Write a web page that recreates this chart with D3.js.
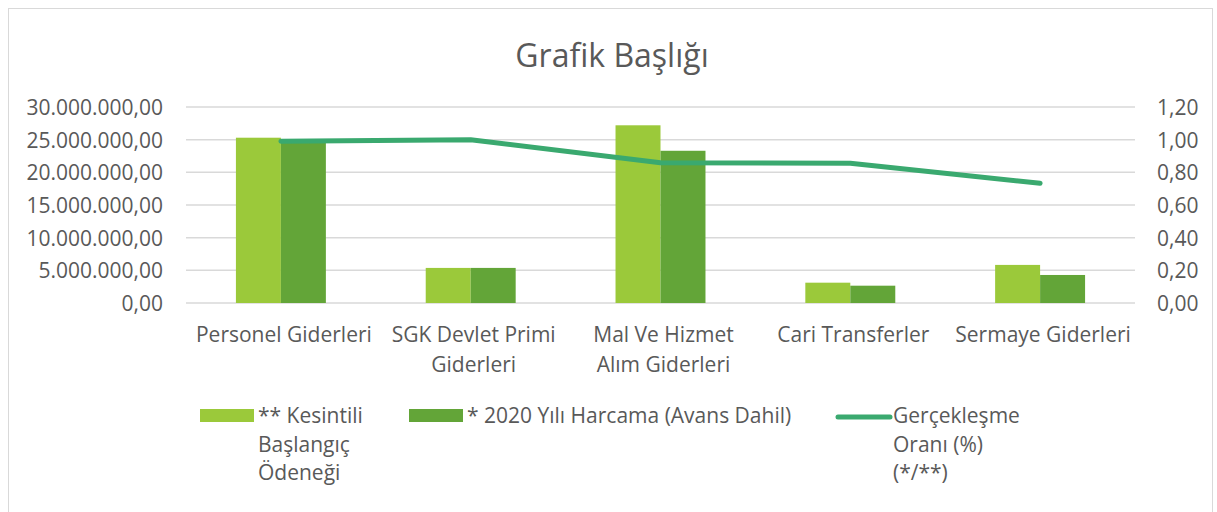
<!DOCTYPE html>
<html>
<head>
<meta charset="utf-8">
<script src="https://cdn.jsdelivr.net/npm/d3@7"></script>
<style>
  body { margin: 0; background: #fff; }
  #chart text { font-family: "Open Sans", sans-serif; fill: #595959; }
</style>
</head>
<body>
<div id="chart"></div>
<script>
"use strict";

const categories = [
  ["Personel Giderleri"],
  ["SGK Devlet Primi", "Giderleri"],
  ["Mal Ve Hizmet", "Alım Giderleri"],
  ["Cari Transferler"],
  ["Sermaye Giderleri"],
];
const budget = [25300000, 5370000, 27200000, 3110000, 5830000];
const spent = [25100000, 5370000, 23300000, 2650000, 4290000];
const ratio = [0.99, 1.0, 0.859, 0.855, 0.733];
const leftTicks = [0, 5000000, 10000000, 15000000, 20000000, 25000000, 30000000];
const rightTicks = [0, 0.2, 0.4, 0.6, 0.8, 1.0, 1.2];
const seriesNames = [
  ["** Kesintili", "Başlangıç", "Ödeneği"],
  ["* 2020 Yılı Harcama (Avans Dahil)"],
  ["Gerçekleşme", "Oranı (%)", "(*/**)"],
];

const colors = ["#9bc93a", "#63a538", "#3aa96f"];

const W = 1217, H = 512;
const plot = { left: 186, right: 1135, top: 107, bottom: 303 };
const fontSize = "21px";

const fmt = d3.formatLocale({ decimal: ",", thousands: ".", grouping: [3], currency: ["", ""] });
const fmtLeft = fmt.format(",.2f");
const fmtRight = fmt.format(".2f");

const svg = d3.select("#chart").append("svg").attr("width", W).attr("height", H);

// frame
svg.append("rect")
  .attr("x", 8.5).attr("y", 8.5)
  .attr("width", 1204).attr("height", 510)
  .attr("fill", "none").attr("stroke", "#d9d9d9");

svg.append("text")
  .attr("x", 612).attr("y", 67)
  .attr("text-anchor", "middle")
  .style("font-size", "32px")
  .text("Grafik Başlığı");

const x = d3.scaleBand()
  .domain(d3.range(categories.length))
  .range([plot.left, plot.right]);

// two bars side by side, ~45px each, centred in the band
const x1 = d3.scaleBand()
  .domain([0, 1])
  .range([0, x.bandwidth()])
  .paddingOuter(1.11);

const yL = d3.scaleLinear().domain([0, 30000000]).range([plot.bottom, plot.top]);
const yR = d3.scaleLinear().domain([0, 1.2]).range([plot.bottom, plot.top]);

// gridlines
svg.append("g")
  .selectAll("line")
  .data(leftTicks)
  .join("line")
  .attr("x1", plot.left).attr("x2", plot.right)
  .attr("y1", (d) => yL(d)).attr("y2", (d) => yL(d))
  .attr("stroke", "#d9d9d9").attr("stroke-width", 1.5);

// left axis
const leftAxis = svg.append("g")
  .attr("transform", `translate(${plot.left - 23}, 0)`)
  .call(d3.axisLeft(yL).tickValues(leftTicks).tickFormat(fmtLeft).tickSize(0).tickPadding(0));
leftAxis.select(".domain").remove();
leftAxis.selectAll("text").style("font-size", fontSize).attr("dy", "0.35em");

// right axis
const rightAxis = svg.append("g")
  .attr("transform", `translate(${plot.right + 22}, 0)`)
  .call(d3.axisRight(yR).tickValues(rightTicks).tickFormat(fmtRight).tickSize(0).tickPadding(0));
rightAxis.select(".domain").remove();
rightAxis.selectAll("text").style("font-size", fontSize).attr("dy", "0.35em");

// bars
const groups = svg.append("g")
  .selectAll("g")
  .data(categories.map((c, i) => [budget[i], spent[i]]))
  .join("g")
  .attr("transform", (d, i) => `translate(${x(i)}, 0)`);

groups.selectAll("rect")
  .data((d) => d)
  .join("rect")
  .attr("x", (d, j) => x1(j))
  .attr("width", x1.bandwidth())
  .attr("y", (d) => yL(d))
  .attr("height", (d) => yL(0) - yL(d))
  .attr("fill", (d, j) => colors[j]);

// line
const line = d3.line()
  .x((d, i) => x(i) + x.bandwidth() / 2)
  .y((d) => yR(d));

svg.append("path")
  .datum(ratio)
  .attr("d", line)
  .attr("fill", "none")
  .attr("stroke", colors[2])
  .attr("stroke-width", 5)
  .attr("stroke-linecap", "round")
  .attr("stroke-linejoin", "round");

// category labels
const catLabels = svg.append("g")
  .selectAll("text")
  .data(categories)
  .join("text")
  .attr("x", (d, i) => x(i) + x.bandwidth() / 2 + 3)
  .attr("y", 342)
  .attr("text-anchor", "middle")
  .style("font-size", fontSize);
catLabels.selectAll("tspan")
  .data((d) => d)
  .join("tspan")
  .attr("x", function () { return this.parentNode.getAttribute("x"); })
  .attr("dy", (d, i) => (i === 0 ? 0 : 30))
  .text((d) => d);

// legend
const legendX = [200, 409, 836];
const legend = svg.append("g")
  .selectAll("g")
  .data(seriesNames)
  .join("g")
  .attr("transform", (d, i) => `translate(${legendX[i]}, 416)`);

legend.filter((d, i) => i < 2)
  .append("rect")
  .attr("x", 0).attr("y", -7)
  .attr("width", 54).attr("height", 13)
  .attr("fill", (d, i) => colors[i]);

legend.filter((d, i) => i === 2)
  .append("line")
  .attr("x1", 2).attr("x2", 54)
  .attr("y1", 1).attr("y2", 1)
  .attr("stroke", colors[2]).attr("stroke-width", 5)
  .attr("stroke-linecap", "round");

legend.append("text")
  .attr("x", (d, i) => (i === 2 ? 57 : 58))
  .attr("y", 7)
  .style("font-size", fontSize)
  .selectAll("tspan")
  .data((d) => d)
  .join("tspan")
  .attr("x", function () { return this.parentNode.getAttribute("x"); })
  .attr("dy", (d, i) => (i === 0 ? 0 : 28.5))
  .text((d) => d);
</script>
</body>
</html>
